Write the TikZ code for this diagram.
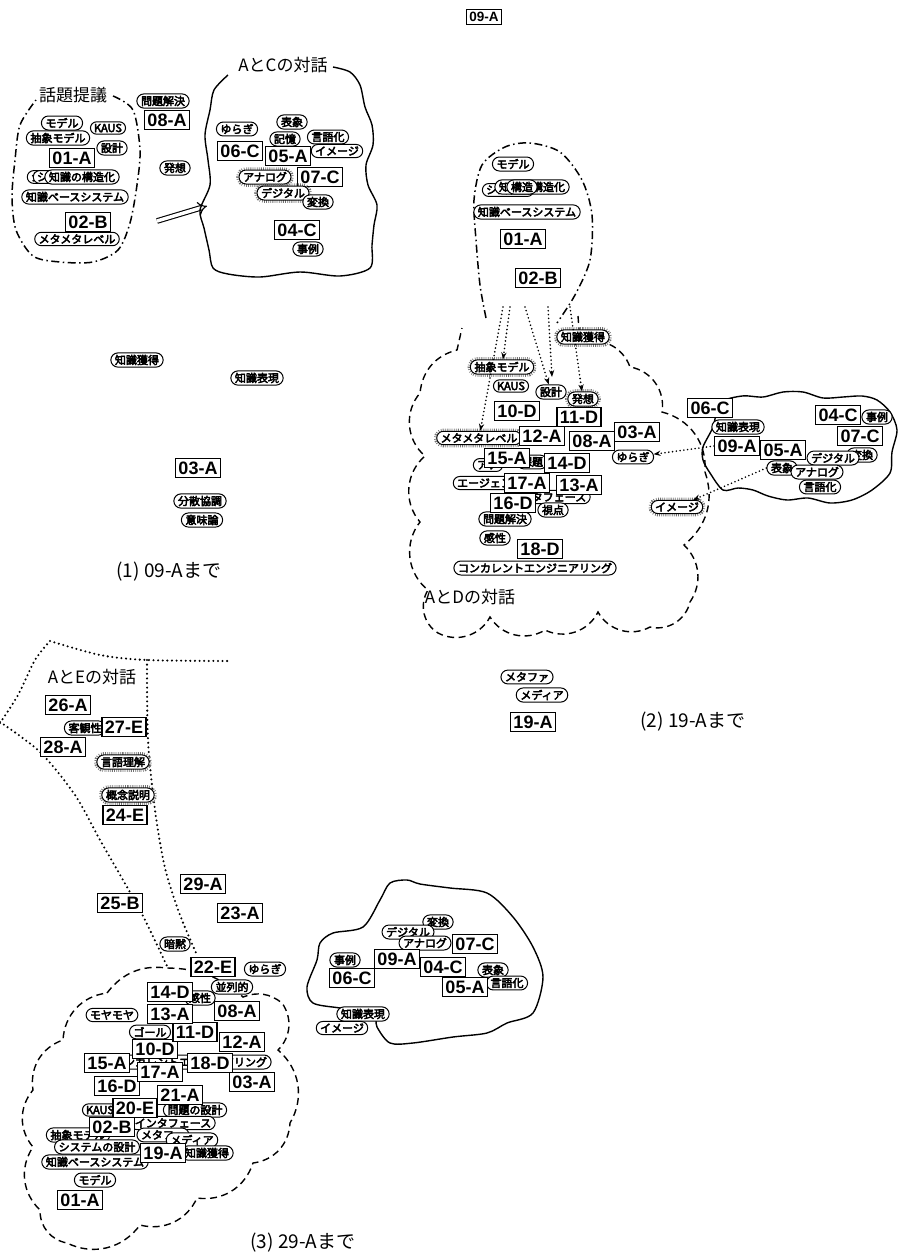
\documentclass[tikz,border=0pt]{standalone}
\usepackage{fontspec}
\setmainfont{Noto Sans CJK JP}
\newfontfamily\boxfont{Liberation Sans}
\newfontfamily\tagfont{Noto Sans CJK JP}[FakeBold=4]
\usetikzlibrary{shapes.misc,arrows.meta}

\tikzset{
  idbox/.style={draw, fill=white, line width=1.1pt, inner xsep=3pt, inner ysep=3pt,
    font=\boxfont\bfseries\fontsize{18}{18}\selectfont},
  idsmall/.style={idbox, font=\boxfont\bfseries\fontsize{13.5}{13.5}\selectfont},
  tag/.style={rounded rectangle, draw, fill=white, line width=1pt, inner xsep=2pt,
    inner ysep=2pt, font=\tagfont\fontsize{11}{11}\selectfont},
  hot/.style={tag, preaction={draw=black!55, line width=5.5pt, dash pattern=on 0.7pt off 1.2pt}},
  title/.style={font=\fontsize{17}{17}\selectfont},
  caption/.style={anchor=west, font=\fontsize{19}{19}\selectfont},
  topicline/.style={line width=1.5pt, dash pattern=on 8pt off 3.5pt on 1.5pt off 3.5pt},
  dialog/.style={line width=1.4pt},
  cloudline/.style={line width=1.4pt, dash pattern=on 7pt off 4.5pt},
  edgeline/.style={line width=2.3pt, line cap=round, dash pattern=on 0pt off 4.6pt},
  hop/.style={line width=1.8pt, line cap=round, dash pattern=on 0pt off 3.8pt, -{Stealth[length=7pt]}}
}

\begin{document}
\begin{tikzpicture}[x=1pt,y=-1pt]
\useasboundingbox (0,0) rectangle (899,1256);

% ---------- (1) ----------
\node[idsmall] (top09A) at (484,17) {09-A};

\node[title] (p1title) at (73,95) {話題提議};
\draw[topicline] plot[smooth] coordinates {(113,96) (133,110) (140,150) (137,185) (130,223) (118,250) (93,262) (60,262) (33,256) (16,230) (12,197) (15,160) (20,125) (36,100)};
\node[tag] (p1mdl) at (62,123) {モデル};
\node[tag] (p1kaus) at (108,128) {KAUS};
\node[tag] (p1abs) at (58,138) {抽象モデル};
\node[tag] (p1des) at (112,148) {設計};
\node[idbox] (p1-01A) at (72,158) {01-A};
\node[tag] (p1bk1) at (42,177) {シス};
\node[tag] (p1bk2) at (48,177) {シス};
\node[tag] (p1str) at (82,177) {知識の構造化};
\node[tag] (p1kbs) at (75,197) {知識ベースシステム};
\node[idbox] (p1-02B) at (88,222) {02-B};
\node[tag] (p1meta) at (77,239) {メタメタレベル};

\node[tag] (p1prob) at (163,101) {問題解決};
\node[idbox] (p1-08A) at (167,120) {08-A};
\node[tag] (p1idea) at (175,168) {発想};
\coordinate (p1from) at (157,221);
\coordinate (p1to) at (207,206);
\draw[double, double distance=3.5pt, line width=1.1pt, -{Implies}] (p1from) -- (p1to);

\node[title] (p1ac) at (283,65) {AとCの対話};
\draw[dialog] plot[smooth] coordinates {(333,67) (350,72) (360,85) (365,107) (372,125) (373,145) (366,165) (368,185) (377,205) (374,225) (372,245) (370,268) (340,276) (300,272) (260,277) (228,274) (213,268) (209,250) (204,228) (200,210) (210,185) (208,160) (205,135) (210,110) (214,90) (228,75)};
\node[tag] (p1yur) at (237,129) {ゆらぎ};
\node[tag] (p1hyo) at (292,122) {表象};
\node[tag] (p1kio) at (285,139) {記憶};
\node[tag] (p1gen) at (328,137) {言語化};
\node[idbox] (p1-06C) at (240,151) {06-C};
\node[idbox] (p1-05A) at (288,156) {05-A};
\node[tag] (p1img) at (337,151) {イメージ};
\node[hot] (p1ana) at (265,177) {アナログ};
\node[idbox] (p1-07C) at (320,177) {07-C};
\node[hot] (p1dig) at (283,193) {デジタル};
\node[tag] (p1hen) at (318,202) {変換};
\node[idbox] (p1-04C) at (297,230) {04-C};
\node[tag] (p1rei) at (308,249) {事例};

\node[tag] (p1kak) at (137,360) {知識獲得};
\node[tag] (p1hyg) at (257,378) {知識表現};
\node[idbox] (p1-03A) at (198,468) {03-A};
\node[tag] (p1bun) at (200,501) {分散協調};
\node[tag] (p1imi) at (202,520) {意味論};
\node[caption] (cap1) at (113,572) {(1) 09-Aまで};

% ---------- (2) ----------
\draw[topicline] plot[smooth] coordinates {(486,318) (480,285) (476,240) (474,200) (482,165) (505,147) (530,143) (560,152) (582,180) (592,215) (590,260) (575,295) (557,323)};
\node[tag] (p2mdl) at (513,164) {モデル};
\node[tag] (p2bk) at (508,190) {システム};
\node[tag] (p2str) at (532,187) {知識の構造化};
\node[tag] (p2kz) at (522,187) {構造};
\node[tag] (p2kbs) at (527,212) {知識ベースシステム};
\node[idbox] (p2-01A) at (523,239) {01-A};
\node[idbox] (p2-02B) at (538,278) {02-B};

\draw[cloudline] (578,316) -- (580,343) to[bend left=45] (630,367) to[bend left=45] (662,412)
  to[bend left=40] (705,472) to[bend left=35] (684,545) to[bend left=40] (690,602)
  to[bend left=45] (650,627) to[bend left=45] (598,612) to[bend left=45] (545,630)
  to[bend left=45] (490,617) to[bend left=45] (438,633) to[bend left=45] (428,590)
  to[bend left=45] (420,522) to[bend left=45] (425,456) to[bend left=45] (420,393)
  to[bend left=35] (457,350) -- (462,328);
\node[title] (p2ad) at (470,597) {AとDの対話};

\node[hot] (p2kak) at (583,337) {知識獲得};
\node[hot] (p2abs) at (502,367) {抽象モデル};
\node[tag] (p2kaus) at (511,386) {KAUS};
\node[tag] (p2des) at (551,392) {設計};
\node[hot] (p2idea) at (583,399) {発想};
\node[tag] (p2ak) at (488,465) {アナ};
\node[tag] (p2dai) at (532,462) {課題};
\node[tag] (p2age) at (490,483) {エージェント};
\node[tag] (p2if) at (548,497) {インタフェース};
\node[tag] (p2prob) at (505,519) {問題解決};
\node[tag] (p2kan) at (495,538) {感性};
\node[idbox] (p2-10D) at (517,411) {10-D};
\node[idbox] (p2-11D) at (579,417) {11-D};
\node[hot] (p2meta) at (479,438) {メタメタレベル};
\node[idbox] (p2-12A) at (542,436) {12-A};
\node[idbox] (p2-08A) at (592,441) {08-A};
\node[idbox] (p2-03A) at (637,432) {03-A};
\node[tag] (p2yur) at (633,457) {ゆらぎ};
\node[idbox] (p2-15A) at (507,458) {15-A};
\node[idbox] (p2-14D) at (567,463) {14-D};
\node[idbox] (p2-17A) at (527,483) {17-A};
\node[idbox] (p2-13A) at (579,485) {13-A};
\node[idbox] (p2-16D) at (513,503) {16-D};
\node[tag] (p2shi) at (553,510) {視点};
\node[idbox] (p2-18D) at (540,549) {18-D};
\node[tag] (p2ce) at (535,568) {コンカレントエンジニアリング};

\coordinate (p2s1) at (503,307);
\coordinate (p2s2) at (510,307);
\coordinate (p2s3) at (525,307);
\coordinate (p2s4) at (548,307);
\coordinate (p2s5) at (570,307);
\coordinate (p2e4) at (552,377);
\draw[hop] (p2s1) -- (p2meta);
\draw[hop] (p2s2) -- (p2abs);
\draw[hop] (p2s3) -- (p2des);
\draw[hop] (p2s4) -- (p2e4);
\draw[hop] (p2s5) -- (p2idea);

\draw[dialog] plot[smooth cycle] coordinates {(720,403) (742,396) (763,397) (783,392) (803,392) (823,398) (843,397) (862,396) (877,400) (890,412) (897,430) (892,452) (890,473) (872,490) (852,500) (830,503) (808,498) (787,500) (768,496) (753,490) (738,488) (723,490) (710,473) (703,460) (703,447) (713,427)};
\node[idbox] (p2-06C) at (710,408) {06-C};
\node[tag] (p2hyg) at (738,427) {知識表現};
\node[idbox] (p2-09A) at (737,446) {09-A};
\node[idbox] (p2-05A) at (783,450) {05-A};
\node[idbox] (p2-04C) at (838,415) {04-C};
\node[tag] (p2rei) at (877,417) {事例};
\node[tag] (p2hen) at (862,455) {変換};
\node[idbox] (p2-07C) at (860,436) {07-C};
\node[tag] (p2dig) at (833,458) {デジタル};
\node[tag] (p2hyo) at (782,468) {表象};
\node[tag] (p2gen) at (820,487) {言語化};
\node[tag] (p2ana) at (817,472) {アナログ};
\node[hot] (p2img) at (677,507) {イメージ};
\draw[hop] (p2-09A.west) -- (p2yur);
\draw[hop] (p2hyo.west) -- (p2img);

\node[tag] (p2mtf) at (527,677) {メタファ};
\node[tag] (p2med) at (542,695) {メディア};
\node[idbox] (p2-19A) at (533,722) {19-A};
\node[caption] (cap2) at (637,722) {(2) 19-Aまで};

% ---------- (3) ----------
\draw[edgeline] plot[smooth] coordinates {(0,723) (18,695) (35,660) (50,641)};
\draw[edgeline] plot[smooth] coordinates {(50,641) (100,655) (147,660) (230,661)};
\draw[edgeline] plot[smooth] coordinates {(0,722) (40,752) (75,795) (100,840) (127,887) (145,920) (167,966)};
\draw[edgeline] plot[smooth] coordinates {(147,660) (148,740) (155,810) (165,868) (180,915) (197,955)};
\node[title] (p3ae) at (92,677) {AとEの対話};
\node[idbox] (p3-26A) at (68,705) {26-A};
\node[tag] (p3kyk) at (85,728) {客観性};
\node[idbox] (p3-27E) at (124,727) {27-E};
\node[idbox] (p3-28A) at (63,747) {28-A};
\node[hot] (p3gri) at (123,762) {言語理解};
\node[hot] (p3gai) at (128,795) {概念説明};
\node[idbox] (p3-24E) at (125,815) {24-E};
\node[idbox] (p3-25B) at (120,903) {25-B};
\node[idbox] (p3-29A) at (203,884) {29-A};
\node[idbox] (p3-23A) at (240,913) {23-A};
\node[tag] (p3anm) at (175,944) {暗黙};

\draw[cloudline] (107,993) to[bend left=30] (167,968) to[bend left=20] (243,997)
  to[bend left=30] (282,1003) to[bend left=40] (278,1050) to[bend left=40] (290,1123)
  to[bend left=40] (253,1163) to[bend left=40] (197,1198) to[bend left=40] (140,1225)
  to[bend left=40] (67,1243) to[bend left=40] (40,1210) to[bend left=40] (33,1147)
  to[bend left=40] (33,1090) to[bend left=40] (63,1040) to[bend left=40] (107,993);

\node[tag] (p3ce) at (190,1062) {コンカレントエンジニアリング};
\node[tag] (p3goal) at (150,1032) {ゴール};
\node[tag] (p3moya) at (112,1015) {モヤモヤ};
\node[tag] (p3kan) at (200,998) {感性};
\node[tag] (p3hei) at (232,987) {並列的};
\node[tag] (p3yur) at (265,969) {ゆらぎ};
\node[tag] (p3mon) at (195,1110) {問題の設計};
\node[tag] (p3kaus) at (100,1110) {KAUS};
\node[tag] (p3if) at (173,1123) {インタフェース};
\node[tag] (p3abs) at (78,1135) {抽象モデル};
\node[tag] (p3mtf) at (163,1135) {メタファ};
\node[tag] (p3med) at (192,1140) {メディア};
\node[tag] (p3sys) at (97,1147) {システムの設計};
\node[tag] (p3kak) at (207,1153) {知識獲得};
\node[tag] (p3kbs) at (95,1162) {知識ベースシステム};
\node[tag] (p3mdl) at (95,1180) {モデル};
\node[idbox] (p3-01A) at (80,1200) {01-A};
\node[idbox] (p3-02B) at (112,1127) {02-B};
\node[idbox] (p3-03A) at (252,1082) {03-A};
\node[idbox] (p3-08A) at (237,1011) {08-A};
\node[idbox] (p3-10D) at (155,1049) {10-D};
\node[idbox] (p3-11D) at (195,1032) {11-D};
\node[idbox] (p3-12A) at (242,1042) {12-A};
\node[idbox] (p3-13A) at (170,1014) {13-A};
\node[idbox] (p3-14D) at (170,992) {14-D};
\node[idbox] (p3-15A) at (107,1063) {15-A};
\node[idbox] (p3-16D) at (117,1086) {16-D};
\node[idbox] (p3-17A) at (160,1072) {17-A};
\node[idbox] (p3-18D) at (210,1063) {18-D};
\node[idbox] (p3-19A) at (163,1153) {19-A};
\node[idbox] (p3-20E) at (135,1108) {20-E};
\node[idbox] (p3-21A) at (180,1095) {21-A};
\node[idbox] (p3-22E) at (213,967) {22-E};

\draw[dialog] plot[smooth cycle] coordinates {(390,883) (407,880) (420,884) (450,888) (487,893) (513,917) (533,947) (543,977) (533,1013) (507,1023) (487,1033) (453,1037) (413,1043) (390,1043) (377,1027) (373,1013) (340,1008) (313,1003) (307,987) (317,960) (320,943) (333,933) (363,927) (380,900)};
\node[tag] (p3hen) at (438,922) {変換};
\node[tag] (p3dig) at (408,932) {デジタル};
\node[tag] (p3ana) at (425,943) {アナログ};
\node[idbox] (p3-07C) at (475,944) {07-C};
\node[tag] (p3rei) at (345,960) {事例};
\node[idbox] (p3-09A) at (397,959) {09-A};
\node[idbox] (p3-04C) at (443,967) {04-C};
\node[tag] (p3hyo) at (493,970) {表象};
\node[idbox] (p3-06C) at (352,978) {06-C};
\node[tag] (p3gen) at (507,983) {言語化};
\node[idbox] (p3-05A) at (465,987) {05-A};
\node[tag] (p3hyg) at (363,1014) {知識表現};
\node[tag] (p3img) at (342,1028) {イメージ};

\node[caption] (cap3) at (247,1243) {(3) 29-Aまで};
\end{tikzpicture}
\end{document}
